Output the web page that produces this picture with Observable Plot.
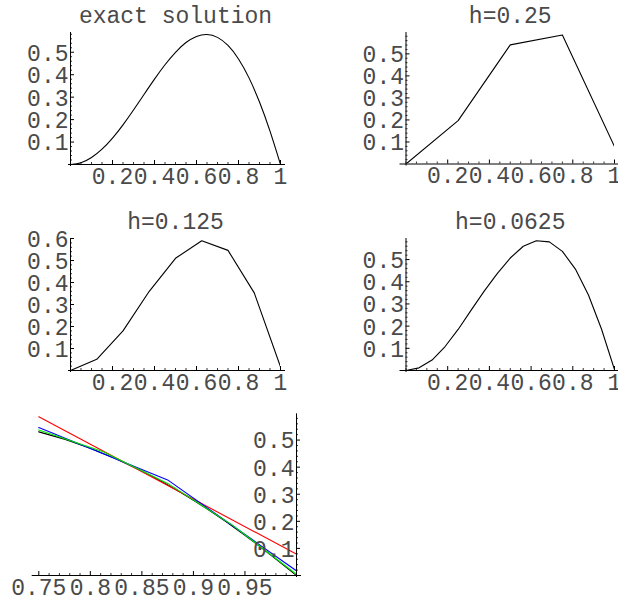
<!DOCTYPE html>
<html>
<head>
<meta charset="utf-8">
<script src="https://cdn.jsdelivr.net/npm/d3@7"></script>
<script src="https://cdn.jsdelivr.net/npm/@observablehq/plot@0.6"></script>
<style>
  html, body { margin: 0; padding: 0; background: #fff; }
  #page { position: relative; width: 618px; height: 599px; background: #fff; overflow: hidden; }
  #page svg { position: absolute; overflow: visible; }
</style>
</head>
<body>
<div id="page"></div>
<script>
// ---- data ----
const exactX = [0, 0.05, 0.1, 0.15, 0.2, 0.25, 0.3, 0.35, 0.4, 0.45, 0.5, 0.55, 0.6, 0.65, 0.7, 0.75, 0.8, 0.85, 0.9, 0.95, 1];
const exactY = [0, 0.0078, 0.0309, 0.0681, 0.1176, 0.1768, 0.2427, 0.3119, 0.3804, 0.4445, 0.5, 0.5432, 0.5706, 0.5792, 0.5663, 0.5303, 0.4702, 0.3859, 0.2781, 0.1486, 0];

const h25X = [0, 0.25, 0.5, 0.75, 1];
const h25Y = [0, 0.197, 0.541, 0.586, 0.079];

const h125X = [0, 0.125, 0.25, 0.375, 0.5, 0.625, 0.75, 0.875, 1];
const h125Y = [0, 0.051, 0.18, 0.36, 0.51, 0.59, 0.546, 0.353, 0.017];

const h0625X = [0, 0.0625, 0.125, 0.1875, 0.25, 0.3125, 0.375, 0.4375, 0.5, 0.5625, 0.625, 0.6875, 0.75, 0.8125, 0.875, 0.9375, 1];
const h0625Y = [0, 0.012, 0.047, 0.108, 0.185, 0.272, 0.358, 0.437, 0.507, 0.56, 0.585, 0.58, 0.537, 0.457, 0.34, 0.187, 0.004];

const titles = ["exact solution", "h=0.25", "h=0.125", "h=0.0625"];

// tick values and labels
const xMajor = [0.2, 0.4, 0.6, 0.8, 1];
const xMajorLabels = ["0.2", "0.4", "0.6", "0.8", "1"];
const yMajor = [0.1, 0.2, 0.3, 0.4, 0.5];
const yMajorLabels = ["0.1", "0.2", "0.3", "0.4", "0.5"];
const yMajor6 = [0.1, 0.2, 0.3, 0.4, 0.5, 0.6];
const yMajor6Labels = ["0.1", "0.2", "0.3", "0.4", "0.5", "0.6"];
const zoomXMajor = [0.75, 0.8, 0.85, 0.9, 0.95];
const zoomXMajorLabels = ["0.75", "0.8", "0.85", "0.9", "0.95"];

const seriesColors = {exact: "#000", h25: "#ff0000", h125: "#0000ff", h0625: "#00e600"};

const toRows = (xs, ys) => xs.map((x, i) => ({x, y: ys[i]}));
const minorTicks = (lo, hi, step, majors) =>
  d3.range(Math.round(lo / step), Math.round(hi / step) + 1)
    .map(k => +(k * step).toFixed(4))
    .filter(v => v > lo - 1e-9 && !majors.some(m => Math.abs(m - v) < 1e-9));

const FONT = "Liberation Mono, Courier New, monospace";
const FS = 23;
const TEXT = "#4a4a4a";

const page = document.getElementById("page");

function panel(cfg) {
  const {box, frame, xDomain, yDomain, series, xTicks, xLabels, xMinor,
         yTicks, yLabels, yMinor, yAxisRight, title, overL, overR} = cfg;
  const mL = frame.x0 - box.left, mR = box.left + box.w - frame.x1;
  const mT = frame.yTop - box.top, mB = box.top + box.h - frame.yBot;
  const fw = frame.x1 - frame.x0, fh = frame.yBot - frame.yTop;
  const yAxisX = yAxisRight ? xDomain[1] : xDomain[0];
  const marks = [];
  for (const s of series) {
    marks.push(Plot.line(s.rows, {x: "x", y: "y", stroke: s.stroke, strokeWidth: 1.1,
      curve: s.curve || "linear", clip: true}));
  }
  marks.push(Plot.ruleY([0], {x1: xDomain[0], x2: xDomain[1], stroke: "#000", strokeWidth: 1,
    insetLeft: -overL, insetRight: -overR}));
  marks.push(Plot.ruleX([yAxisX], {stroke: "#000", strokeWidth: 1, insetBottom: -2}));
  marks.push(Plot.tickX(xTicks, {x: d => d, stroke: "#000", strokeWidth: 1, insetTop: fh - 4}));
  marks.push(Plot.tickX(xMinor, {x: d => d, stroke: "#000", strokeWidth: 0.8, insetTop: fh - 2}));
  if (yAxisRight) {
    marks.push(Plot.tickY(yTicks, {y: d => d, stroke: "#000", strokeWidth: 1, insetLeft: fw, insetRight: -4}));
    marks.push(Plot.tickY(yMinor, {y: d => d, stroke: "#000", strokeWidth: 0.8, insetLeft: fw, insetRight: -2}));
  } else {
    marks.push(Plot.tickY(yTicks, {y: d => d, stroke: "#000", strokeWidth: 1, insetRight: fw - 4}));
    marks.push(Plot.tickY(yMinor, {y: d => d, stroke: "#000", strokeWidth: 0.8, insetRight: fw - 2}));
  }
  marks.push(Plot.text(xTicks, {x: d => d, text: (d, i) => xLabels[i], frameAnchor: "bottom",
    lineAnchor: "top", dy: 3, fontFamily: FONT, fontSize: FS, fill: TEXT}));
  marks.push(Plot.text(yTicks, {y: d => d, x: yAxisX, text: (d, i) => yLabels[i],
    textAnchor: "end", dx: -2, dy: 1, fontFamily: FONT, fontSize: FS, fill: TEXT}));
  if (title) {
    marks.push(Plot.text([title], {text: d => d, frameAnchor: "top", lineAnchor: "bottom",
      dy: -10, fontFamily: FONT, fontSize: FS, fill: TEXT}));
  }
  const svg = Plot.plot({
    width: box.w, height: box.h,
    marginLeft: mL, marginRight: mR, marginTop: mT, marginBottom: mB,
    x: {domain: xDomain, axis: null},
    y: {domain: yDomain, axis: null},
    style: {background: "transparent", overflow: "visible"},
    marks
  });
  svg.style.left = box.left + "px";
  svg.style.top = box.top + "px";
  page.appendChild(svg);
}

const exactRows = toRows(exactX, exactY);
const h25Rows = toRows(h25X, h25Y);
const h125Rows = toRows(h125X, h125Y);
const h0625Rows = toRows(h0625X, h0625Y);

const xMinor = minorTicks(0, 1, 0.05, xMajor);
const yMinor = minorTicks(0.02, 0.58, 0.02, yMajor6);
const zoomXMinor = minorTicks(0.75, 1, 0.01, zoomXMajor.concat([1]));

panel({
  box: {left: 0, top: 0, w: 309, h: 195},
  frame: {x0: 70, x1: 280, yTop: 32, yBot: 164},
  xDomain: [0, 1], yDomain: [0, 0.588],
  series: [{rows: exactRows, stroke: seriesColors.exact, curve: "natural"}],
  xTicks: xMajor, xLabels: xMajorLabels, xMinor,
  yTicks: yMajor, yLabels: yMajorLabels, yMinor,
  title: titles[0], overL: 2, overR: 5
});
panel({
  box: {left: 309, top: 0, w: 309, h: 195},
  frame: {x0: 405.5, x1: 614, yTop: 32, yBot: 163.5},
  xDomain: [0, 1], yDomain: [0, 0.597],
  series: [{rows: h25Rows, stroke: seriesColors.exact}],
  xTicks: xMajor, xLabels: xMajorLabels, xMinor,
  yTicks: yMajor, yLabels: yMajorLabels, yMinor,
  title: titles[1], overL: 6, overR: 5
});
panel({
  box: {left: 0, top: 195, w: 309, h: 195},
  frame: {x0: 70, x1: 280, yTop: 238, yBot: 370},
  xDomain: [0, 1], yDomain: [0, 0.6],
  series: [{rows: h125Rows, stroke: seriesColors.exact}],
  xTicks: xMajor, xLabels: xMajorLabels, xMinor,
  yTicks: yMajor6, yLabels: yMajor6Labels, yMinor,
  title: titles[2], overL: 2, overR: 5
});
panel({
  box: {left: 309, top: 195, w: 309, h: 195},
  frame: {x0: 405.5, x1: 614, yTop: 238, yBot: 370},
  xDomain: [0, 1], yDomain: [0, 0.595],
  series: [{rows: h0625Rows, stroke: seriesColors.exact}],
  xTicks: xMajor, xLabels: xMajorLabels, xMinor,
  yTicks: yMajor, yLabels: yMajorLabels, yMinor,
  title: titles[3], overL: 6, overR: 5
});
panel({
  box: {left: 0, top: 390, w: 309, h: 209},
  frame: {x0: 38.3, x1: 296, yTop: 413.3, yBot: 575},
  xDomain: [0.75, 1], yDomain: [0, 0.597],
  series: [
    {rows: exactRows, stroke: seriesColors.exact, curve: "natural"},
    {rows: h25Rows, stroke: seriesColors.h25},
    {rows: h125Rows, stroke: seriesColors.h125},
    {rows: h0625Rows, stroke: seriesColors.h0625}
  ],
  xTicks: zoomXMajor, xLabels: zoomXMajorLabels, xMinor: zoomXMinor,
  yTicks: yMajor, yLabels: yMajorLabels, yMinor,
  yAxisRight: true, title: null, overL: 6.6, overR: 5
});
</script>
</body>
</html>
